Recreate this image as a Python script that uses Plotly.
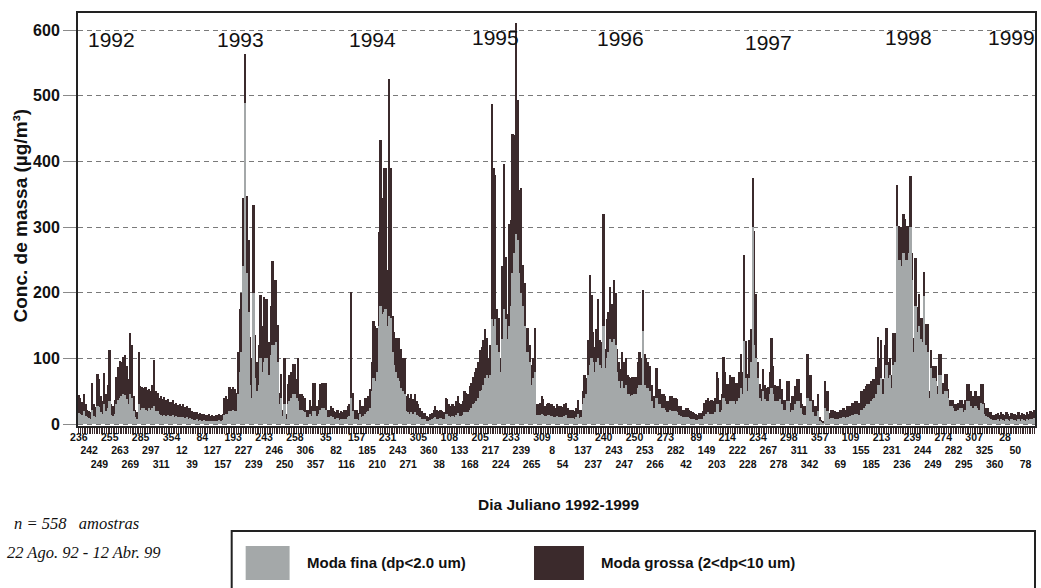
import plotly.graph_objects as go

# Julian-day tick labels (one every 6 samples, 3 staggered rows)
rotulos = [236, 242, 249, 255, 263, 269, 285, 297, 311, 354, 12, 39, 84, 127, 157,
           193, 227, 239, 243, 246, 250, 258, 306, 357, 35, 82, 116, 157, 185, 210,
           231, 243, 271, 305, 360, 38, 108, 133, 168, 205, 217, 224, 233, 239, 265,
           309, 8, 54, 93, 137, 237, 240, 243, 247, 250, 253, 266, 273, 282, 42,
           89, 149, 203, 214, 222, 228, 234, 267, 278, 298, 311, 342, 357, 33, 69,
           109, 155, 185, 213, 231, 236, 239, 244, 249, 274, 282, 295, 307, 325, 360,
           28, 50, 78]

# total mass (fine + coarse), ug/m3, 558 samples
massa_total = [
    44, 40, 34, 46, 30, 22, 20, 18, 63, 30, 26, 76, 69, 42, 35, 78, 45, 60,
    113, 30, 28, 37, 71, 87, 96, 94, 102, 105, 88, 69, 139, 120, 43, 22, 18, 109,
    58, 56, 55, 57, 52, 54, 50, 60, 98, 50, 48, 40, 43, 38, 41, 36, 38, 34,
    33, 36, 30, 32, 29, 31, 28, 30, 26, 27, 24, 25, 20, 19, 18, 19, 16, 17,
    15, 16, 14, 13, 15, 12, 13, 12, 14, 13, 15, 14, 16, 40, 42, 38, 56, 54,
    56, 53, 48, 110, 175, 200, 344, 564, 348, 281, 133, 100, 334, 136, 95, 120, 196, 150,
    193, 190, 190, 125, 180, 248, 220, 219, 151, 48, 76, 22, 101, 15, 61, 74, 79, 92,
    92, 69, 101, 45, 45, 43, 40, 22, 22, 37, 27, 63, 63, 27, 37, 61, 63, 62,
    62, 22, 22, 27, 24, 20, 18, 22, 17, 20, 19, 21, 22, 27, 30, 201, 48, 22,
    22, 17, 37, 27, 28, 40, 40, 42, 53, 95, 157, 150, 146, 292, 432, 344, 390, 390,
    234, 525, 390, 165, 140, 131, 131, 131, 115, 100, 100, 43, 45, 40, 45, 38, 45, 35,
    30, 24, 20, 17, 17, 12, 11, 15, 17, 22, 27, 22, 20, 22, 20, 18, 40, 38,
    30, 28, 30, 27, 35, 43, 32, 30, 35, 50, 48, 45, 58, 63, 71, 79, 85, 95,
    113, 118, 128, 144, 131, 100, 120, 487, 390, 380, 175, 162, 100, 240, 396, 255, 167, 305,
    310, 442, 440, 611, 494, 357, 360, 242, 215, 146, 146, 120, 90, 100, 146, 30, 30, 32,
    43, 38, 28, 30, 32, 30, 30, 28, 25, 30, 27, 28, 26, 30, 32, 24, 22, 22,
    22, 20, 24, 37, 22, 22, 50, 74, 70, 128, 227, 196, 140, 118, 144, 190, 128, 125,
    320, 115, 160, 170, 209, 183, 219, 200, 115, 95, 84, 110, 95, 100, 74, 72, 70, 72,
    71, 72, 95, 110, 100, 204, 107, 100, 95, 89, 60, 43, 43, 85, 53, 53, 45, 45,
    43, 35, 35, 43, 42, 40, 40, 38, 27, 27, 22, 22, 24, 24, 22, 20, 19, 17,
    15, 14, 17, 17, 20, 32, 37, 40, 35, 37, 35, 40, 79, 70, 37, 45, 102, 79,
    61, 61, 74, 71, 71, 62, 63, 80, 107, 79, 258, 126, 76, 128, 144, 375, 294, 198,
    95, 61, 53, 84, 60, 55, 56, 79, 131, 89, 60, 58, 58, 69, 53, 37, 37, 66,
    66, 32, 43, 43, 58, 69, 69, 48, 30, 27, 27, 107, 74, 74, 37, 27, 27, 45,
    11, 6, 5, 66, 50, 50, 17, 22, 22, 20, 19, 19, 22, 22, 24, 22, 27, 27,
    27, 32, 32, 35, 35, 32, 50, 50, 53, 58, 61, 61, 66, 69, 69, 87, 133, 100,
    128, 69, 120, 146, 95, 100, 74, 139, 139, 364, 302, 300, 300, 320, 312, 302, 302, 377,
    261, 131, 253, 178, 198, 162, 162, 232, 152, 152, 50, 113, 89, 89, 89, 58, 107, 107,
    63, 76, 76, 53, 37, 37, 37, 30, 30, 32, 37, 37, 30, 37, 61, 61, 50, 43,
    43, 50, 43, 43, 61, 61, 32, 24, 24, 19, 19, 14, 14, 15, 17, 13, 18, 16,
    14, 18, 16, 12, 17, 15, 16, 13, 18, 14, 17, 15, 14, 18, 16, 20, 19, 22,
]

# fine mode (dp<2.0 um), ug/m3
moda_fina = [
    17, 16, 14, 20, 12, 10, 9, 8, 22, 12, 10, 28, 26, 18, 15, 30, 20, 24,
    35, 14, 12, 16, 30, 36, 40, 42, 45, 44, 38, 30, 45, 40, 20, 10, 8, 30,
    22, 24, 25, 22, 20, 24, 22, 25, 28, 20, 20, 16, 14, 12, 14, 12, 13, 12,
    12, 13, 11, 12, 10, 11, 10, 11, 9, 10, 8, 9, 7, 6, 6, 7, 5, 6,
    5, 6, 5, 5, 5, 4, 5, 4, 5, 5, 6, 5, 6, 14, 16, 15, 20, 20,
    22, 20, 20, 45, 80, 110, 240, 489, 230, 170, 60, 40, 200, 70, 50, 60, 100, 80,
    95, 100, 100, 75, 105, 120, 120, 125, 95, 30, 40, 12, 30, 8, 30, 35, 40, 45,
    45, 40, 35, 22, 22, 20, 18, 10, 10, 15, 12, 20, 20, 12, 15, 22, 25, 25,
    22, 10, 10, 12, 10, 8, 7, 9, 6, 8, 7, 8, 8, 10, 12, 40, 20, 8,
    8, 6, 15, 10, 12, 15, 18, 20, 25, 50, 70, 65, 80, 150, 180, 167, 170, 175,
    150, 165, 162, 110, 90, 80, 70, 65, 55, 50, 45, 20, 18, 16, 18, 15, 18, 14,
    12, 10, 8, 7, 7, 5, 5, 6, 7, 9, 10, 8, 8, 9, 8, 7, 15, 15,
    12, 11, 12, 11, 14, 17, 12, 12, 14, 18, 18, 18, 22, 25, 30, 32, 35, 40,
    50, 52, 60, 70, 75, 70, 75, 160, 150, 160, 120, 110, 80, 130, 175, 160, 130, 150,
    180, 230, 260, 290, 280, 230, 200, 180, 150, 110, 110, 95, 60, 70, 80, 14, 14, 14,
    16, 14, 12, 12, 13, 12, 12, 11, 10, 12, 11, 11, 10, 12, 13, 9, 9, 9,
    9, 8, 10, 15, 9, 10, 30, 40, 45, 75, 90, 100, 95, 80, 95, 100, 90, 85,
    150, 85, 100, 110, 130, 125, 130, 120, 80, 65, 55, 65, 55, 60, 45, 45, 42, 44,
    45, 46, 55, 60, 60, 141, 60, 55, 55, 50, 35, 25, 25, 40, 30, 30, 25, 24,
    22, 18, 18, 22, 20, 20, 20, 18, 13, 12, 10, 10, 10, 10, 9, 8, 8, 7,
    6, 6, 7, 7, 8, 12, 15, 18, 15, 16, 15, 18, 30, 30, 18, 22, 40, 35,
    30, 30, 35, 35, 35, 30, 35, 40, 55, 45, 126, 70, 50, 70, 95, 300, 120, 100,
    70, 40, 35, 50, 38, 35, 35, 45, 55, 45, 35, 35, 35, 38, 30, 22, 22, 35,
    35, 18, 22, 22, 30, 35, 35, 25, 15, 14, 14, 40, 35, 35, 18, 12, 12, 20,
    5, 3, 2, 25, 20, 20, 7, 9, 9, 8, 8, 8, 9, 9, 10, 9, 11, 11,
    12, 13, 14, 15, 15, 14, 22, 22, 25, 28, 30, 30, 35, 38, 40, 45, 60, 60,
    70, 45, 70, 90, 70, 75, 55, 90, 95, 302, 250, 250, 240, 260, 250, 250, 260, 300,
    220, 110, 180, 140, 150, 130, 125, 195, 120, 110, 40, 85, 70, 70, 65, 45, 75, 75,
    45, 50, 50, 40, 28, 28, 25, 20, 20, 22, 24, 24, 18, 22, 35, 35, 28, 25,
    25, 28, 24, 22, 32, 30, 15, 12, 11, 9, 8, 6, 6, 6, 7, 5, 7, 6,
    5, 7, 6, 5, 7, 6, 6, 5, 7, 5, 7, 6, 5, 7, 6, 8, 7, 9,
]

anos = ["1992", "1993", "1994", "1995", "1996", "1997", "1998", "1999"]
anos_x = [19, 94, 171, 243, 316, 402, 484, 544]
anos_y = [585, 585, 585, 589, 587, 581, 589, 588]

COR_FINA = "#a4a8a9"
COR_GROSSA = "#3b2a2c"
FONT = "Arial, 'Liberation Sans', sans-serif"
SERIF = "'Times New Roman', 'Liberation Serif', serif"

n = len(massa_total)
idx = list(range(n))

fig = go.Figure()
fig.add_trace(go.Bar(x=idx, y=massa_total, name="Moda grossa (2<dp<10 um)",
                     marker=dict(color=COR_GROSSA, line=dict(width=0))))
fig.add_trace(go.Bar(x=idx, y=moda_fina, name="Moda fina (dp<2.0 um)",
                     marker=dict(color=COR_FINA, line=dict(width=0))))

tickvals = list(range(0, n, 6))
ticktext = ["<br>" * (k % 3) + str(r) for k, r in enumerate(rotulos)]

fig.update_layout(
    width=1041, height=588,
    margin=dict(l=78, r=4, t=13, b=162),
    paper_bgcolor="white", plot_bgcolor="white",
    barmode="overlay", bargap=0, showlegend=False,
    font=dict(family=FONT, color="#111"),
)

fig.update_xaxes(
    range=[-0.5, n - 0.5], tickmode="array", tickvals=tickvals, ticktext=ticktext,
    tickangle=0, tickfont=dict(size=10.5, weight="bold", color="#111"),
    showgrid=False, zeroline=False,
    showline=True, linecolor="#222", linewidth=2, mirror=True,
    ticks="",
    minor=dict(ticks="outside", ticklen=6, tickmode="linear", tick0=0, dtick=1,
               tickcolor=COR_GROSSA, tickwidth=1, showgrid=False),
)
fig.update_yaxes(
    range=[-3, 626], tickmode="array", tickvals=[0, 100, 200, 300, 400, 500, 600],
    tickfont=dict(size=16, weight="bold", color="#111"),
    showgrid=True, gridcolor="#7a7a7a", gridwidth=1, griddash="5px,4px",
    zeroline=False,
    showline=True, linecolor="#222", linewidth=2, mirror=True,
    ticks="outside", ticklen=13, tickcolor="#8a8a8a",
)

for a, xa, ya in zip(anos, anos_x, anos_y):
    fig.add_annotation(x=xa, y=ya, xref="x", yref="y", text=a, showarrow=False,
                       font=dict(size=21, color="#111"), xanchor="center", yanchor="middle")

fig.add_annotation(x=-0.0605, y=0.51, xref="paper", yref="paper",
                   text="Conc. de massa (µg/m³)", textangle=-90, showarrow=False,
                   font=dict(size=19, weight="bold", color="#111"),
                   xanchor="center", yanchor="middle")
fig.add_annotation(x=0.5026, y=-0.1889, xref="paper", yref="paper",
                   text="Dia Juliano 1992-1999", showarrow=False,
                   font=dict(size=15.5, weight="bold", color="#111"),
                   xanchor="center", yanchor="middle")
fig.add_annotation(x=-0.0688, y=-0.2349, xref="paper", yref="paper",
                   text="<i>n = 558&nbsp;&nbsp; amostras</i>", showarrow=False,
                   font=dict(size=16.5, family=SERIF, color="#111"),
                   xanchor="left", yanchor="middle")
fig.add_annotation(x=-0.0761, y=-0.3075, xref="paper", yref="paper",
                   text="<i>22 Ago. 92 - 12 Abr. 99</i>", showarrow=False,
                   font=dict(size=16.5, family=SERIF, color="#111"),
                   xanchor="left", yanchor="middle")

# legend box (custom, large swatches)
fig.add_shape(type="rect", xref="paper", yref="paper", x0=0.1606, x1=1.0, y0=-0.421, y1=-0.2542,
              line=dict(color="#222", width=2), fillcolor="rgba(0,0,0,0)")
fig.add_shape(type="rect", xref="paper", yref="paper", x0=0.1752, x1=0.2211, y0=-0.3729, y1=-0.2906,
              line=dict(width=0), fillcolor=COR_FINA)
fig.add_shape(type="rect", xref="paper", yref="paper", x0=0.4765, x1=0.5287, y0=-0.3729, y1=-0.2906,
              line=dict(width=0), fillcolor=COR_GROSSA)
fig.add_annotation(x=0.2367, y=-0.3293, xref="paper", yref="paper",
                   text="Moda fina (dp&lt;2.0 um)", showarrow=False,
                   font=dict(size=15, weight="bold", color="#111"),
                   xanchor="left", yanchor="middle")
fig.add_annotation(x=0.5443, y=-0.3293, xref="paper", yref="paper",
                   text="Moda grossa (2&lt;dp&lt;10 um)", showarrow=False,
                   font=dict(size=15, weight="bold", color="#111"),
                   xanchor="left", yanchor="middle")

fig.write_html("out.html")
